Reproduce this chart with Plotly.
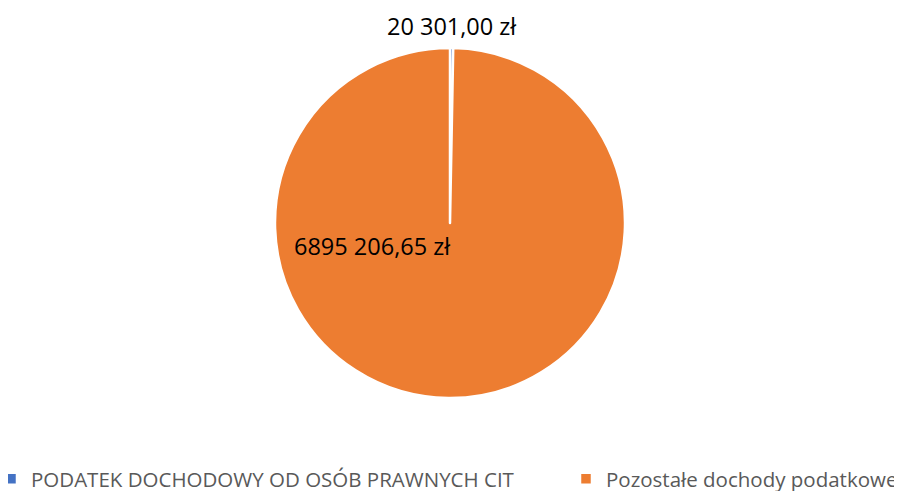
import plotly.graph_objects as go

labels = ["PODATEK DOCHODOWY OD OSÓB PRAWNYCH CIT", "Pozostałe dochody podatkowe"]
values = [20301.00, 6895206.65]
colors = ["#4472C4", "#ED7D31"]


def pln(v, group_millions=True):
    s = f"{v:,.2f}".replace(",", " ").replace(".", ",")
    if not group_millions and s.count(" ") > 1:
        s = s.replace(" ", "", 1)
    return s + " zł"


# page is drawn with an 8px body margin; figure is wider than the window
W, H = 1160, 500

fig = go.Figure(go.Pie(
    labels=labels, values=values,
    sort=False, direction="clockwise", rotation=0,
    marker=dict(colors=colors, line=dict(color="white", width=2.5)),
    textinfo="none", hoverinfo="label+value",
    domain=dict(x=[0.23017, 0.53190], y=[0.13525, 0.91131]),
))

fig.add_annotation(x=0.38276, y=0.96009, xref="paper", yref="paper",
                   xanchor="center", yanchor="middle",
                   text=pln(values[0]), showarrow=False,
                   font=dict(size=23.5, color="black"))
fig.add_annotation(x=0.24483, y=0.47118, xref="paper", yref="paper",
                   xanchor="left", yanchor="middle",
                   text=pln(values[1], group_millions=False), showarrow=False,
                   font=dict(size=23.5, color="black"))

fig.update_layout(
    width=W, height=H,
    font=dict(family="Open Sans, sans-serif", size=20.5, color="#595959"),
    plot_bgcolor="white", paper_bgcolor="white",
    margin=dict(l=0, r=0, t=0, b=49, autoexpand=False),
    legend=dict(orientation="h", x=-0.01466, y=0, xanchor="left", yanchor="top",
                entrywidth=530, itemclick=False, font=dict(size=20.5)),
)
fig.write_html("out.html")
